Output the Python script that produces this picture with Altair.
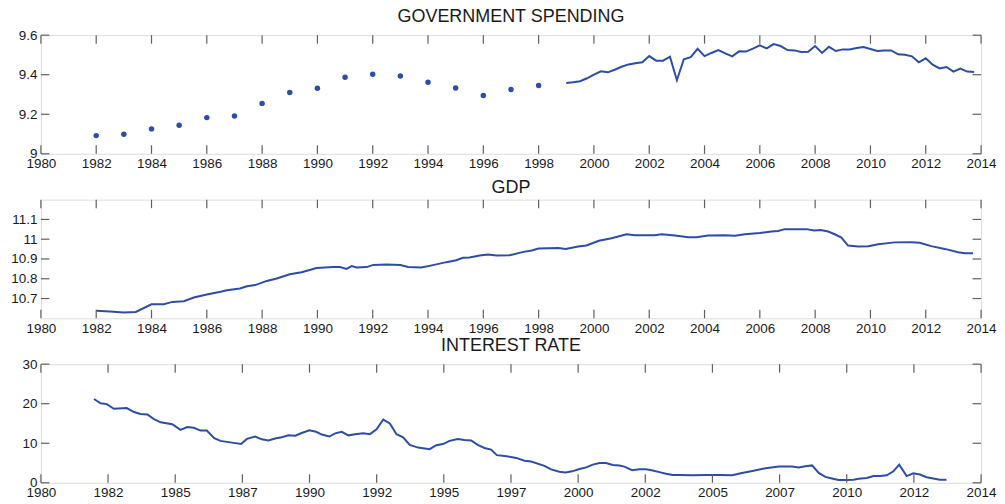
import altair as alt
import pandas as pd

# ---------------- data ----------------
gs_years = list(range(1982, 1999))
gs_annual = [9.092, 9.099, 9.126, 9.144, 9.183, 9.191, 9.255, 9.310, 9.332,
             9.387, 9.402, 9.394, 9.362, 9.333, 9.295, 9.325, 9.345]

gs_q_years = [1999 + 0.25 * i for i in range(60)]
gs_quarterly = [9.358, 9.362, 9.367, 9.382, 9.400, 9.417, 9.412, 9.425,
                9.440, 9.452, 9.458, 9.463, 9.494, 9.471, 9.471, 9.491,
                9.372, 9.478, 9.489, 9.531, 9.494, 9.510, 9.525, 9.508,
                9.493, 9.518, 9.517, 9.532, 9.548, 9.533, 9.555, 9.545,
                9.525, 9.523, 9.515, 9.516, 9.545, 9.510, 9.541, 9.520,
                9.528, 9.528, 9.535, 9.540, 9.530, 9.520, 9.522, 9.523,
                9.503, 9.501, 9.493, 9.463, 9.483, 9.451, 9.432, 9.439,
                9.416, 9.431, 9.416, 9.414]

gdp_t = [1982.0, 1982.5, 1983.0, 1983.43, 1984.0, 1984.45, 1984.75, 1985.17,
         1985.53, 1986.0, 1986.5, 1986.73, 1987.2, 1987.45, 1987.75, 1988.17,
         1988.53, 1989.0, 1989.43, 1989.97, 1990.57, 1990.82, 1991.05, 1991.24,
         1991.42, 1991.78, 1992.02, 1992.5, 1993.0, 1993.28, 1993.76, 1994.18,
         1994.66, 1995.02, 1995.26, 1995.5, 1995.87, 1996.17, 1996.47, 1996.96,
         1997.45, 1997.75, 1997.99, 1998.71, 1998.98, 1999.43, 1999.73, 2000.18,
         2000.64, 2001.18, 2001.48, 2002.2, 2002.45, 2002.93, 2003.41, 2003.71,
         2004.13, 2004.73, 2005.1, 2005.46, 2006.0, 2006.42, 2006.66, 2006.9,
         2007.69, 2007.96, 2008.2, 2008.47, 2008.71, 2008.95, 2009.19, 2009.55,
         2009.92, 2010.28, 2010.88, 2011.48, 2011.78, 2012.2, 2012.69, 2013.17,
         2013.41, 2013.71]
gdp_v = [10.638, 10.634, 10.629, 10.632, 10.671, 10.671, 10.683, 10.686,
         10.705, 10.720, 10.734, 10.742, 10.751, 10.762, 10.768, 10.789,
         10.801, 10.823, 10.833, 10.854, 10.859, 10.859, 10.850, 10.864,
         10.857, 10.859, 10.870, 10.872, 10.869, 10.860, 10.857, 10.869,
         10.884, 10.894, 10.906, 10.908, 10.918, 10.923, 10.918, 10.919,
         10.936, 10.943, 10.953, 10.955, 10.950, 10.963, 10.968, 10.992,
         11.005, 11.025, 11.020, 11.020, 11.025, 11.019, 11.010, 11.010,
         11.019, 11.020, 11.017, 11.025, 11.031, 11.039, 11.042, 11.051,
         11.051, 11.044, 11.046, 11.039, 11.025, 11.008, 10.968, 10.963,
         10.965, 10.975, 10.984, 10.985, 10.982, 10.965, 10.951, 10.934,
         10.929, 10.929]

ir_t = [1981.92, 1982.16, 1982.38, 1982.64, 1983.1, 1983.37, 1983.6, 1983.85,
        1984.09, 1984.33, 1984.75, 1985.05, 1985.29, 1985.53, 1985.77, 1986.0,
        1986.27, 1986.49, 1986.97, 1987.24, 1987.45, 1987.75, 1987.99, 1988.23,
        1988.47, 1988.71, 1988.95, 1989.2, 1989.43, 1989.71, 1989.95, 1990.16,
        1990.43, 1990.64, 1990.88, 1991.12, 1991.36, 1991.66, 1991.9, 1992.14,
        1992.38, 1992.62, 1992.86, 1993.1, 1993.34, 1993.64, 1994.06, 1994.3,
        1994.54, 1994.78, 1995.08, 1995.32, 1995.56, 1995.8, 1996.04, 1996.28,
        1996.49, 1996.77, 1997.19, 1997.49, 1997.73, 1998.21, 1998.45, 1998.75,
        1998.97, 1999.21, 1999.48, 1999.72, 1999.96, 2000.2, 2000.44, 2000.68,
        2000.92, 2001.1, 2001.38, 2001.65, 2001.89, 2002.13, 2002.37, 2002.61,
        2002.85, 2003.09, 2003.57, 2004.05, 2004.53, 2005.0, 2005.31, 2005.73,
        2006.21, 2006.69, 2007.17, 2007.41, 2007.65, 2007.89, 2008.13, 2008.37,
        2008.61, 2008.85, 2009.09, 2009.39, 2009.57, 2009.87, 2010.11, 2010.35,
        2010.59, 2010.83, 2011.04, 2011.31, 2011.55, 2011.79, 2012.03, 2012.27,
        2012.51, 2012.75]
ir_v = [21.2, 20.1, 19.9, 18.7, 18.9, 17.9, 17.4, 17.3,
        16.1, 15.3, 14.8, 13.4, 14.1, 13.9, 13.2, 13.2,
        11.3, 10.6, 10.1, 9.8, 11.1, 11.7, 11.0, 10.7,
        11.2, 11.5, 12.0, 11.9, 12.6, 13.3, 12.9, 12.2,
        11.7, 12.5, 12.9, 12.0, 12.3, 12.5, 12.3, 13.5,
        16.0, 15.0, 12.3, 11.5, 9.6, 8.9, 8.5, 9.5,
        9.8, 10.6, 11.1, 10.8, 10.7, 9.6, 8.8, 8.4,
        7.0, 6.8, 6.3, 5.6, 5.4, 4.3, 3.4, 2.8,
        2.6, 2.9, 3.5, 3.9, 4.6, 5.0, 5.0, 4.5,
        4.4, 4.1, 3.2, 3.4, 3.4, 3.1, 2.7, 2.3,
        2.0, 2.0, 1.9, 2.0, 2.0, 1.9, 2.4, 3.0,
        3.7, 4.1, 4.1, 3.9, 4.2, 4.4, 2.5, 1.5,
        1.1, 0.7, 0.7, 0.8, 1.0, 1.2, 1.7, 1.7,
        1.9, 2.9, 4.6, 1.7, 2.4, 2.1, 1.4, 1.1,
        0.8, 0.8]

year_ticks = list(range(1980, 2015, 2))
ir_tick_labels = ["1980", "1982", "1985", "1987", "1990", "1992", "1995", "1997",
                  "2000", "2002", "2005", "2007", "2010", "2012", "2014"]
ir_ticks = [1980 + k * 34 / 14 for k in range(15)]

gs_yticks = [9, 9.2, 9.4, 9.6]
gdp_yticks = [10.7, 10.8, 10.9, 11, 11.1]
ir_yticks = [0, 10, 20, 30]

# ---------------- styling ----------------
W, H = 943, 119
TL = 8.5
BLUE = "#2d4da8"
TICK = "#606060"
FONT = "Liberation Sans"

xscale = alt.Scale(domain=[1980, 2014], nice=False, zero=False)


def make_xaxis(values, label_expr=None):
    kw = dict(values=values, title=None, ticks=False, domain=False, grid=False,
              labelPadding=3, labelFontSize=13.5, labelFont=FONT,
              labelColor="#1a1a1a", labelFlush=False, labelOverlap=False,
              labelBound=False, format="d")
    if label_expr:
        kw["labelExpr"] = label_expr
    return alt.Axis(**kw)


def make_yaxis(values):
    return alt.Axis(values=values, title=None, ticks=False, domain=False, grid=False,
                    labelPadding=4, labelFontSize=13.5, labelFont=FONT,
                    labelColor="#1a1a1a", labelFlush=False, labelOverlap=False,
                    labelBound=False, format="~r")


def panel(data_layers, xticks, yticks, ydomain, title, label_expr=None):
    xaxis = make_xaxis(xticks, label_expr)
    yscale = alt.Scale(domain=ydomain, nice=False, zero=False)
    yaxis = make_yaxis(yticks)
    X = alt.X("x:Q", scale=xscale, axis=xaxis)
    Y = alt.Y("y:Q", scale=yscale, axis=yaxis)
    layers = []
    for df, kind in data_layers:
        if kind == "line":
            layers.append(alt.Chart(df).mark_line(color=BLUE, strokeWidth=2)
                          .encode(x=X, y=Y))
        else:
            layers.append(alt.Chart(df).mark_circle(color=BLUE, size=30, opacity=1)
                          .encode(x=X, y=Y))
    xt = pd.DataFrame({"x": xticks})
    yt = pd.DataFrame({"y": yticks})
    rule = dict(color=TICK, strokeWidth=1.2)
    layers.append(alt.Chart(xt).mark_rule(**rule).encode(
        x=X, y=alt.value(H), y2=alt.value(H - TL)))
    layers.append(alt.Chart(xt).mark_rule(**rule).encode(
        x=X, y=alt.value(0), y2=alt.value(TL)))
    layers.append(alt.Chart(yt).mark_rule(**rule).encode(
        y=Y, x=alt.value(0), x2=alt.value(TL)))
    layers.append(alt.Chart(yt).mark_rule(**rule).encode(
        y=Y, x=alt.value(W), x2=alt.value(W - TL)))
    return alt.layer(*layers).properties(
        width=W, height=H,
        title=alt.TitleParams(title, fontSize=18, font=FONT, fontWeight="normal",
                              color="#1a1a1a", anchor="middle", frame="group",
                              offset=2))


gs_pts = pd.DataFrame({"x": gs_years, "y": gs_annual})
gs_line = pd.DataFrame({"x": gs_q_years, "y": gs_quarterly})
gdp_df = pd.DataFrame({"x": gdp_t, "y": gdp_v})
ir_df = pd.DataFrame({"x": ir_t, "y": ir_v})

p1 = panel([(gs_pts, "point"), (gs_line, "line")], year_ticks, gs_yticks,
           [9, 9.6], "GOVERNMENT SPENDING")
p2 = panel([(gdp_df, "line")], year_ticks, gdp_yticks, [10.6, 11.2], "GDP")
lbl = "[" + ",".join("'%s'" % s for s in ir_tick_labels) + "]"
p3 = panel([(ir_df, "line")], ir_ticks, ir_yticks, [0, 30], "INTEREST RATE",
           label_expr=lbl + "[round((datum.value-1980)*14/34)]")

chart = alt.vconcat(p1, p2, p3, spacing=46, bounds="flush").properties(
    padding={"left": 2, "top": -1.5, "right": 0, "bottom": 0}
).configure_view(stroke="#111111", strokeWidth=1.2).configure(background="white")

chart.save("out.html", embed_options={"renderer": "svg", "actions": False})
